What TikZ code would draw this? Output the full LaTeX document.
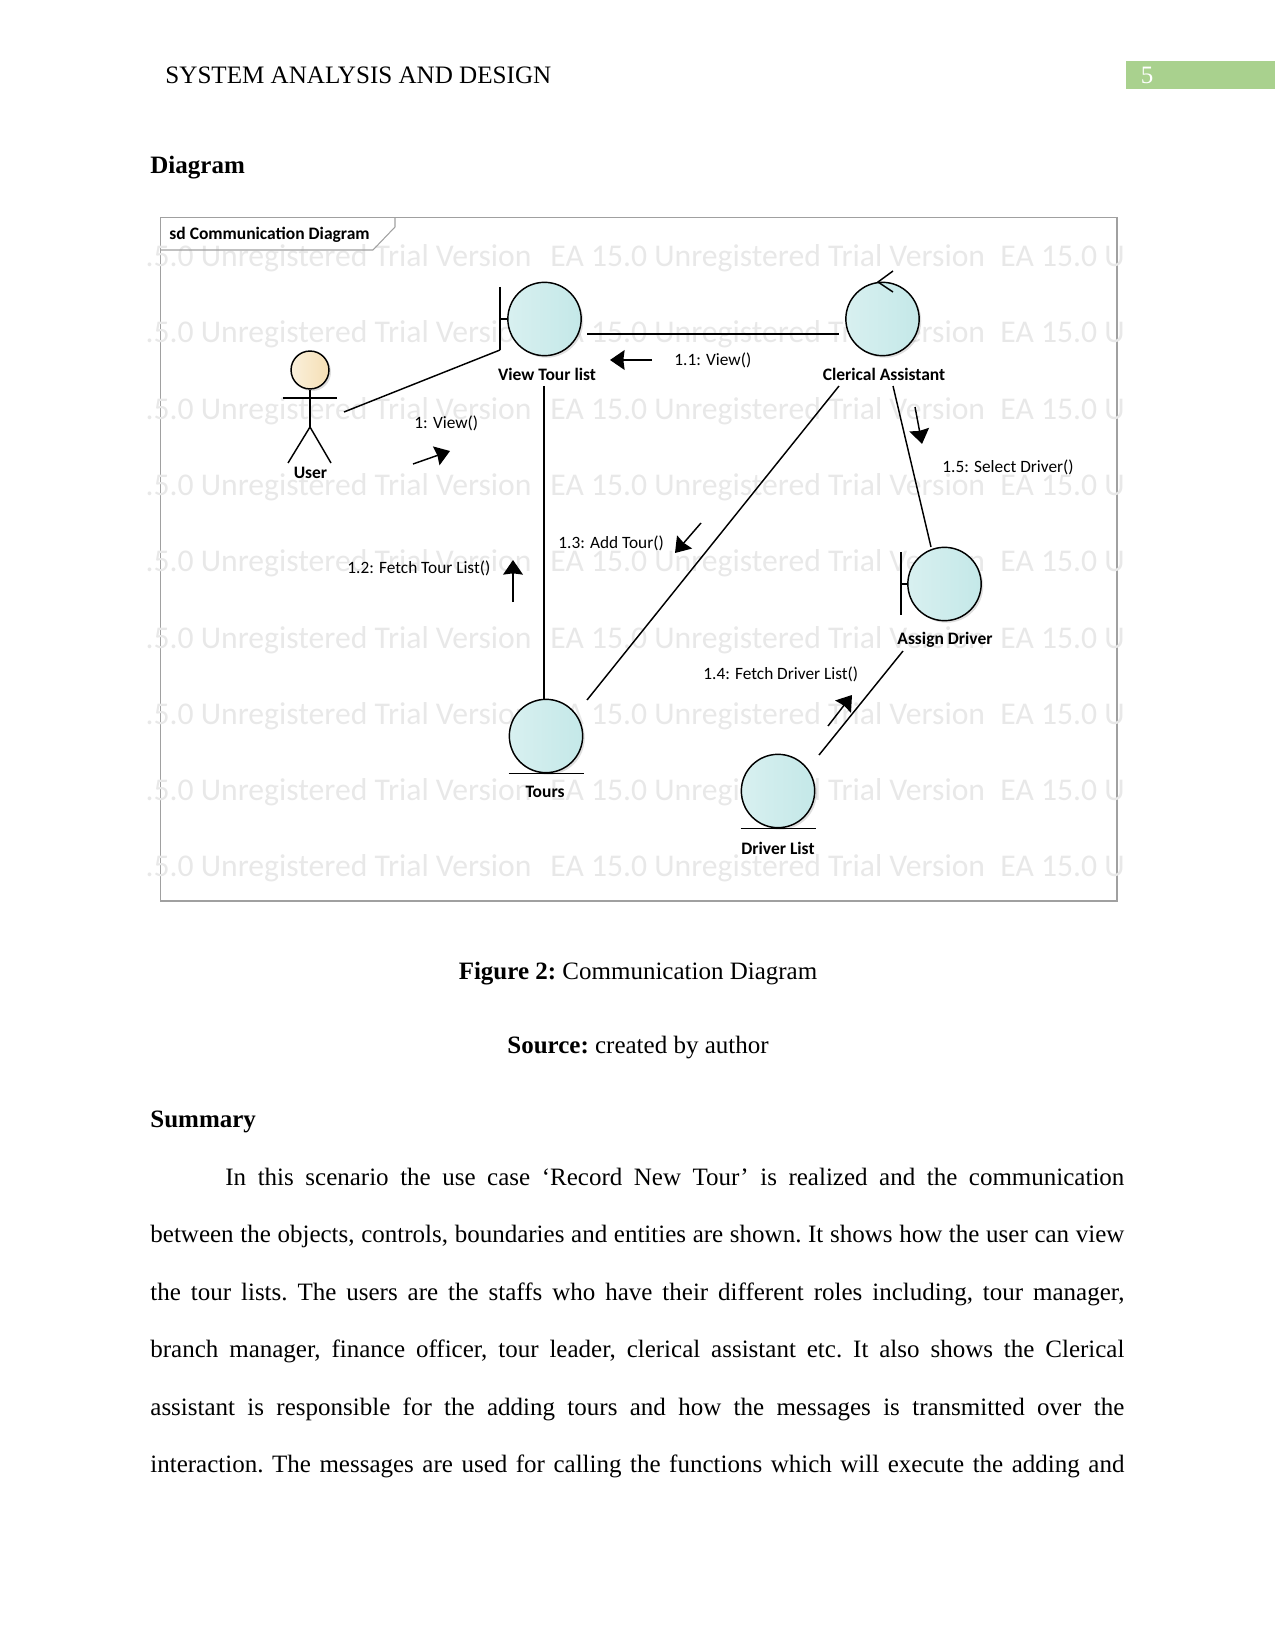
\documentclass[tikz,border=0pt]{standalone}
\usepackage{fontspec}
\setmainfont{Liberation Serif}
\newfontfamily\calibri{Carlito}
\usetikzlibrary{positioning}
\usetikzlibrary{arrows.meta}
\usetikzlibrary{shadows}
\definecolor{robust1}{RGB}{216, 240, 240}
\definecolor{robust2}{RGB}{196, 232, 232}
\definecolor{actor1}{RGB}{250, 240, 220}
\definecolor{actor2}{RGB}{245, 223, 180}
\definecolor{band}{RGB}{169, 209, 142}
\definecolor{frame}{RGB}{160, 160, 160}
\definecolor{mark}{RGB}{232, 232, 232}
\tikzset{
thickness/.style={line width=0.7pt},
robust/.style={draw,circle,thickness,minimum size=35.2pt,inner sep=0pt,
	left color=robust1,right color=robust2,
	drop shadow={shadow xshift=1pt,shadow yshift=-1pt,opacity=0.25}},
head/.style={draw,circle,thickness,minimum size=18.2pt,inner sep=0pt,
	left color=actor1,right color=actor2,
	drop shadow={shadow xshift=1pt,shadow yshift=-1pt,opacity=0.25}},
objname/.style={font=\calibri\bfseries\fontsize{8.4}{10}\selectfont,inner sep=0pt},
msgname/.style={font=\calibri\fontsize{8.3}{10}\selectfont,inner sep=0pt},
msgarrow/.style={-{Stealth[length=7pt,width=9.5pt,inset=0.6pt]},thickness},
link/.style={thickness},
wmark/.style={inner sep=0pt,text=mark,font=\calibri\fontsize{15.2}{18}\selectfont},
bodyline/.style={anchor=base west,inner sep=0pt,font=\frenchspacing\fontsize{12}{14}\selectfont},
}
\begin{document}
\begin{tikzpicture}[x=0.48pt,y=-0.48pt]
\useasboundingbox (0,0) rectangle (1275,1650);
%Page header
\node[bodyline,font=\fontsize{12.05}{14}\selectfont] (header) at (165,84) {SYSTEM ANALYSIS AND DESIGN};
\fill[band] (1126,61) rectangle (1275,89);
\node[text=white,inner sep=0pt,font=\fontsize{12}{14}\selectfont] (pageno) at (1147,75) {5};
\node[bodyline,font=\fontsize{12}{14}\selectfont\bfseries] (diagramhead) at (150,174) {Diagram};

%Frame and watermark
\draw[frame,line width=0.5pt] (160.5,217.5) rectangle (1117,901);
\foreach \r in {0,...,8} {
	\pgfmathsetmacro{\wy}{266.5+76.3*\r}
	\node[wmark,anchor=base east] (wma\r) at (532,\wy) {.5.0 Unregistered Trial Version};
	\node[wmark,anchor=base west] (wmb\r) at (550,\wy) {EA 15.0 Unregistered Trial Version};
	\node[wmark,anchor=base west] (wmc\r) at (1000,\wy) {EA 15.0 U};
}
\draw[frame,line width=0.5pt] (160.5,250) -- (373,250) -- (395,227) -- (395,217.5);
\node[anchor=west,inner sep=0pt,font=\calibri\bfseries\fontsize{8.4}{10}\selectfont] (title) at (169,235) {sd Communication Diagram};

%Place the nodes
\node[robust] (view) at (544.5,319) {};
\node[robust] (clerical) at (882.5,319) {};
\node[robust] (tours) at (546,736) {};
\node[robust] (assign) at (944.5,584) {};
\node[robust] (driver) at (778,791) {};
\node[head] (user) at (310,370) {};

\node[objname] (viewname) at (547,374) {View Tour list};
\node[objname] (clericalname) at (884,374) {Clerical Assistant};
\node[objname] (toursname) at (545,792) {Tours};
\node[objname] (assignname) at (945,640) {Assign Driver};
\node[objname] (drivername) at (778,848) {Driver List};
\node[objname] (username) at (310.5,473) {User};

%Boundary and entity marks
\coordinate (viewbartop) at (500,287);
\coordinate (viewbarbot) at (500,350);
\coordinate (viewbarmid) at (500,319);
\draw[link] (viewbartop) -- (viewbarbot);
\draw[link] (viewbarmid) -- (view.west);
\coordinate (assignbartop) at (901,552);
\coordinate (assignbarbot) at (901,615);
\coordinate (assignbarmid) at (901,584);
\draw[link] (assignbartop) -- (assignbarbot);
\draw[link] (assignbarmid) -- (assign.west);
\draw[link] ([xshift=-18pt]tours.south) -- ([xshift=18pt]tours.south);
\draw[link] ([xshift=-18pt]driver.south) -- ([xshift=18pt]driver.south);
\coordinate (ctrlup) at (893,271);
\coordinate (ctrldown) at (893,292);
\coordinate (ctrltip) at (878,282);
\draw[link] (ctrlup) -- (ctrltip) -- (ctrldown);

%Actor
\coordinate (userneck) at (310,427);
\coordinate (userarml) at (283,398);
\coordinate (userarmr) at (337,398);
\coordinate (userlegl) at (288,463);
\coordinate (userlegr) at (331,463);
\draw[link] (user.south) -- (userneck);
\draw[link] (userarml) -- (userarmr);
\draw[link] (userlegl) -- (userneck) -- (userlegr);

%Links
\coordinate (userport) at (344,412);
\coordinate (viewright) at (587,334);
\coordinate (clericalleft) at (839,334);
\coordinate (clericalfoot) at (839,386);
\coordinate (toursright) at (587,700);
\coordinate (clericalfoot2) at (893,386);
\coordinate (assigntop) at (931,547);
\coordinate (assignfoot) at (903,651);
\coordinate (driverright) at (819,755);
\coordinate (viewfoot) at (544,386);
\draw[link] (userport) -- (viewbarbot);
\draw[link] (viewright) -- (clericalleft);
\draw[link] (viewfoot) -- (viewfoot |- tours.north);
\draw[link] (clericalfoot) -- (toursright);
\draw[link] (clericalfoot2) -- (assigntop);
\draw[link] (assignfoot) -- (driverright);

%Messages
\node[msgname,anchor=west] (m1) at (414,423) {1: View()};
\node[msgname,anchor=west] (m11) at (674,360) {1.1: View()};
\node[msgname,anchor=west] (m12) at (347,568) {1.2: Fetch Tour List()};
\node[msgname,anchor=west] (m13) at (558,543) {1.3: Add Tour()};
\node[msgname,anchor=west] (m14) at (703,674) {1.4: Fetch Driver List()};
\node[msgname,anchor=west] (m15) at (942,467) {1.5: Select Driver()};

\coordinate (a1) at (413,464); \coordinate (b1) at (450,451);
\coordinate (a11) at (652,360); \coordinate (b11) at (610,360);
\coordinate (a12) at (513,602); \coordinate (b12) at (513,560);
\coordinate (a13) at (701,523); \coordinate (b13) at (675,553);
\coordinate (a14) at (828,726); \coordinate (b14) at (852,695);
\coordinate (a15) at (915,407); \coordinate (b15) at (922,444);
\foreach \m in {1,11,12,13,14,15} {
	\draw[msgarrow] (a\m) -- (b\m);
}

%Captions
\node[bodyline,anchor=base] (figcap) at (638,979) {\textbf{Figure 2:} Communication Diagram};
\node[bodyline,anchor=base] (srccap) at (638,1053) {\textbf{Source:} created by author};
\node[bodyline,font=\fontsize{12}{14}\selectfont\bfseries] (summary) at (150,1127) {Summary};

%Paragraph
\node[bodyline] (p1) at (225,1185) {\makebox[431.5pt][s]{In this scenario the use case ‘Record New Tour’ is realized and the communication}};
\node[bodyline] (p2) at (150,1242) {\makebox[467.5pt][s]{between the objects, controls, boundaries and entities are shown. It shows how the user can view}};
\node[bodyline] (p3) at (150,1300) {\makebox[467.5pt][s]{the tour lists. The users are the staffs who have their different roles including, tour manager,}};
\node[bodyline] (p4) at (150,1357) {\makebox[467.5pt][s]{branch manager, finance officer, tour leader, clerical assistant etc. It also shows the Clerical}};
\node[bodyline] (p5) at (150,1415) {\makebox[467.5pt][s]{assistant is responsible for the adding tours and how the messages is transmitted over the}};
\node[bodyline] (p6) at (150,1472) {\makebox[467.5pt][s]{interaction. The messages are used for calling the functions which will execute the adding and}};
\end{tikzpicture}
\end{document}
